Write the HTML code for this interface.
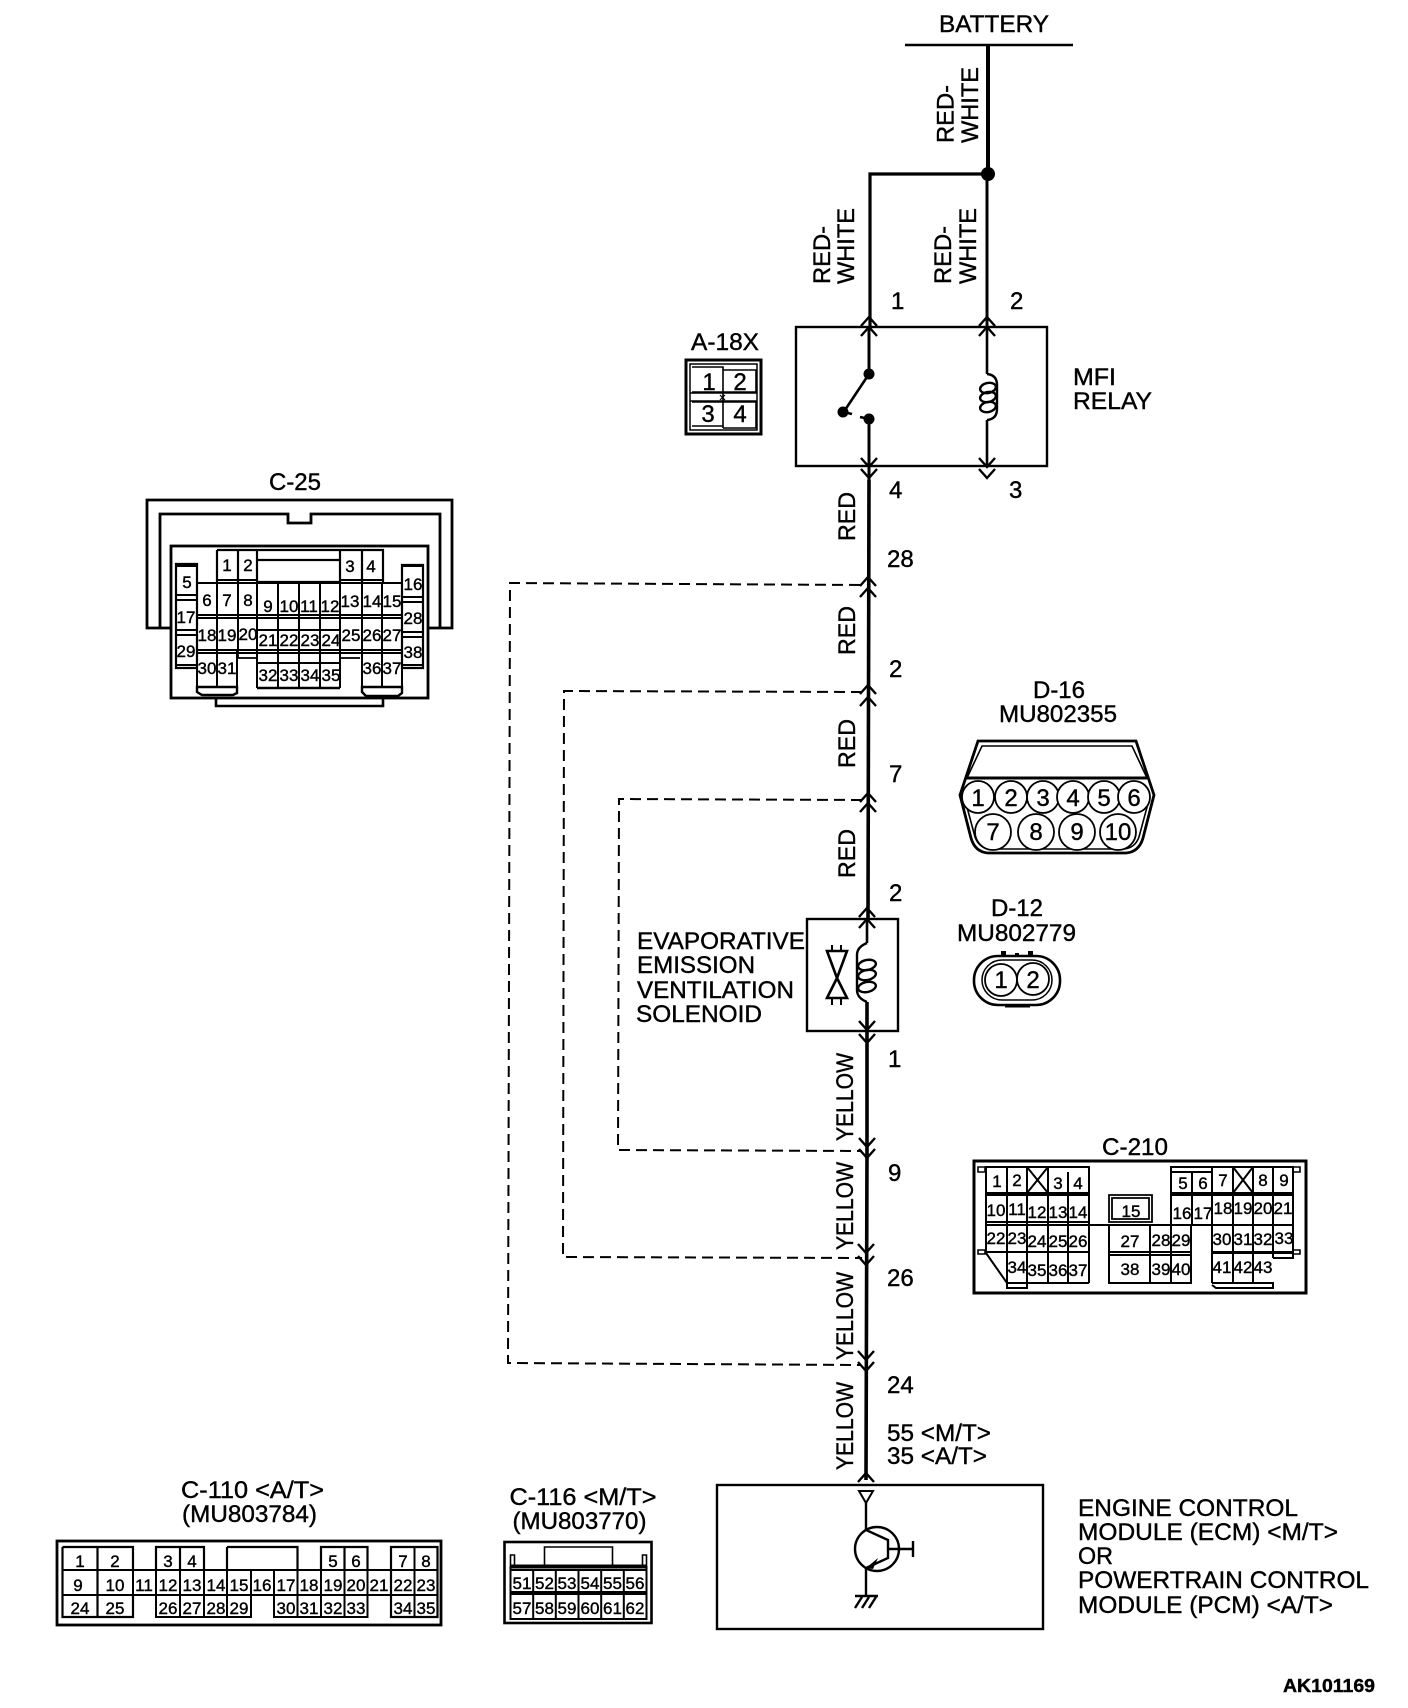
<!DOCTYPE html>
<html><head><meta charset="utf-8"><title>Wiring diagram</title>
<style>
html,body{margin:0;padding:0;background:#fff}
svg{display:block}
text{font-family:"Liberation Sans",Arial,sans-serif;fill:#000;stroke:#000;stroke-width:.4}
.t{font-size:24px}
.n{font-size:17px;text-anchor:middle;stroke:#000;stroke-width:.45}
.p{font-size:24px}
.c{font-size:24px;text-anchor:middle}
.l{fill:none;stroke:#000}
</style></head><body>
<svg width="1408" height="1708" viewBox="0 0 1408 1708" xmlns="http://www.w3.org/2000/svg" stroke-width="2.2">
<rect width="1408" height="1708" fill="#fff" stroke="none"/>

<!-- Wires -->
<g fill="none" stroke="#000">
<path d="M905 45H1073" stroke-width="2.5"/>
<path d="M988 45V174" stroke-width="4"/>
<path d="M988 174H870V327" stroke-width="3.2"/>
<path d="M987 174V327" stroke-width="3"/>
<path d="M869 327V374" stroke-width="3"/>
<path d="M869 419V580" stroke-width="3"/>
<path d="M869 480L868 919" stroke-width="3.6"/>
<path d="M867 1002V1150L866 1480" stroke-width="3.6"/>
<path d="M987 327V374M987 420V466" stroke-width="2.6"/>
<path d="M867 919V943M867 1002V1031" stroke-width="2.6"/>
</g>
<circle cx="988" cy="174" r="7" stroke="none"/>

<!-- Dashed -->
<g fill="none" stroke="#000" stroke-width="2" stroke-dasharray="11 6">
<path d="M860 585L510 583L508 1363L860 1365"/>
<path d="M862 692L564 691L563 1257L862 1258"/>
<path d="M862 800L619 799L618 1150L862 1151"/>
</g>

<!-- Arrow chevrons -->
<g fill="none" stroke="#000" stroke-width="2.4">
<path d="M861 326L869 317L877 326M861 336L869 327L877 336"/>
<path d="M979 326L987 317L995 326M979 336L987 327L995 336"/>
<path d="M861 458L869 467L877 458M861 469L869 478L877 469"/>
<path d="M979 458L987 467L995 458M979 469L987 478L995 469"/>
<path d="M860 586L868 577L876 586M860 597L868 588L876 597"/>
<path d="M860 694L868 685L876 694M860 706L868 697L876 706"/>
<path d="M860 802L868 793L876 802M860 812L868 803L876 812"/>
<path d="M859 917L867 908L875 917M859 928L867 919L875 928"/>
<path d="M859 1021L867 1030L875 1021M859 1034L867 1043L875 1034"/>
<path d="M859 1138L867 1147L875 1138M859 1149L867 1158L875 1149"/>
<path d="M858 1244L866 1253L874 1244M858 1256L866 1265L874 1256"/>
<path d="M858 1351L866 1360L874 1351M858 1362L866 1371L874 1362"/>
<path d="M858 1482L866 1473L874 1482"/>
</g>

<!-- Top labels -->
<text class="t" x="939" y="32" textLength="110" lengthAdjust="spacingAndGlyphs">BATTERY</text>
<text class="t" transform="translate(953.5 143) rotate(-90)" textLength="58" lengthAdjust="spacingAndGlyphs">RED-</text>
<text class="t" transform="translate(978 143) rotate(-90)" textLength="76" lengthAdjust="spacingAndGlyphs">WHITE</text>
<text class="t" transform="translate(830 284) rotate(-90)" textLength="58" lengthAdjust="spacingAndGlyphs">RED-</text>
<text class="t" transform="translate(854 284) rotate(-90)" textLength="76" lengthAdjust="spacingAndGlyphs">WHITE</text>
<text class="t" transform="translate(951 284) rotate(-90)" textLength="58" lengthAdjust="spacingAndGlyphs">RED-</text>
<text class="t" transform="translate(976 284) rotate(-90)" textLength="76" lengthAdjust="spacingAndGlyphs">WHITE</text>

<text class="t" transform="translate(855 541) rotate(-90)" textLength="49" lengthAdjust="spacingAndGlyphs">RED</text>
<text class="t" transform="translate(855 655) rotate(-90)" textLength="49" lengthAdjust="spacingAndGlyphs">RED</text>
<text class="t" transform="translate(855 768) rotate(-90)" textLength="49" lengthAdjust="spacingAndGlyphs">RED</text>
<text class="t" transform="translate(855 878) rotate(-90)" textLength="49" lengthAdjust="spacingAndGlyphs">RED</text>
<text class="t" transform="translate(853 1141) rotate(-90)" textLength="88" lengthAdjust="spacingAndGlyphs">YELLOW</text>
<text class="t" transform="translate(853 1250) rotate(-90)" textLength="88" lengthAdjust="spacingAndGlyphs">YELLOW</text>
<text class="t" transform="translate(853 1360) rotate(-90)" textLength="88" lengthAdjust="spacingAndGlyphs">YELLOW</text>
<text class="t" transform="translate(853 1470) rotate(-90)" textLength="88" lengthAdjust="spacingAndGlyphs">YELLOW</text>

<!-- Pin numbers -->
<text class="p" x="891" y="309">1</text>
<text class="p" x="1010" y="309">2</text>
<text class="p" x="889" y="498">4</text>
<text class="p" x="1009" y="498">3</text>
<text class="p" x="887" y="567">28</text>
<text class="p" x="889" y="677">2</text>
<text class="p" x="889" y="782">7</text>
<text class="p" x="889" y="901">2</text>
<text class="p" x="888" y="1067">1</text>
<text class="p" x="888" y="1181">9</text>
<text class="p" x="887" y="1286">26</text>
<text class="p" x="887" y="1393">24</text>
<text class="p" x="887" y="1441" textLength="104" lengthAdjust="spacingAndGlyphs">55 &lt;M/T&gt;</text>
<text class="p" x="887" y="1464" textLength="100" lengthAdjust="spacingAndGlyphs">35 &lt;A/T&gt;</text>

<!-- MFI relay -->
<rect x="796" y="327" width="251" height="139" class="l" stroke-width="2.4"/>
<circle cx="869" cy="374" r="5.5" stroke="none"/>
<circle cx="843" cy="412" r="5.5" stroke="none"/>
<circle cx="869" cy="419" r="5.5" stroke="none"/>
<path d="M869 374L845 410M869 419L860 417M843 412L852 414" class="l" stroke-width="2.6"/>
<path d="M987 374Q997 375 997 385V409Q997 419 987 420" class="l" stroke-width="2.4"/>
<ellipse cx="988" cy="388" rx="8" ry="5" class="l" stroke-width="2.4" transform="rotate(-12 988 388)"/>
<ellipse cx="988" cy="397" rx="8" ry="5" class="l" stroke-width="2.4" transform="rotate(-12 988 397)"/>
<ellipse cx="988" cy="407" rx="8" ry="5" class="l" stroke-width="2.4" transform="rotate(-12 988 407)"/>
<text class="t" x="1073" y="385" textLength="43" lengthAdjust="spacingAndGlyphs">MFI</text>
<text class="t" x="1073" y="409" textLength="79" lengthAdjust="spacingAndGlyphs">RELAY</text>

<!-- A-18X -->
<text class="t" x="691" y="350" textLength="68" lengthAdjust="spacingAndGlyphs">A-18X</text>
<rect x="686" y="360" width="75" height="74" class="l" stroke-width="3"/>
<rect x="690" y="364" width="67" height="66" class="l" stroke-width="1.5"/>
<path d="M692 367H723V392H692M723 370H756V392H723M692 402H723V426H692M723 402H756V428H723M690 393H757M690 401H757M723 367V428" class="l" stroke-width="1.6"/>
<path d="M720 395L725 400M725 395L720 400" class="l" stroke-width="1.2"/>
<text class="c" x="709" y="390">1</text>
<text class="c" x="740" y="390">2</text>
<text class="c" x="708" y="422">3</text>
<text class="c" x="740" y="422">4</text>

<!-- Solenoid -->
<rect x="807" y="919" width="91" height="112" class="l" stroke-width="2.4"/>
<path d="M867 943Q857 947 857 955V990Q857 998 867 1002" class="l" stroke-width="2.4"/>
<ellipse cx="867" cy="965" rx="9" ry="5" class="l" stroke-width="2.4" transform="rotate(-12 867 965)"/>
<ellipse cx="867" cy="975" rx="9" ry="5" class="l" stroke-width="2.4" transform="rotate(-12 867 975)"/>
<ellipse cx="867" cy="987" rx="9" ry="5" class="l" stroke-width="2.4" transform="rotate(-12 867 987)"/>
<path d="M827 951H847L837 978L847 998H827L837 978Z" class="l" stroke-width="2.6"/>
<path d="M832 945V951M841 945V951M832 998V1005M841 998V1005" class="l" stroke-width="2"/>
<text class="t" x="637" y="949" textLength="168" lengthAdjust="spacingAndGlyphs">EVAPORATIVE</text>
<text class="t" x="637" y="973" textLength="118" lengthAdjust="spacingAndGlyphs">EMISSION</text>
<text class="t" x="637" y="998" textLength="157" lengthAdjust="spacingAndGlyphs">VENTILATION</text>
<text class="t" x="636" y="1022" textLength="126" lengthAdjust="spacingAndGlyphs">SOLENOID</text>

<!-- ECM -->
<rect x="717" y="1485" width="326" height="144" class="l" stroke-width="2.4"/>
<path d="M859 1491H873L866 1503Z" class="l" stroke-width="2"/>
<path d="M866 1503V1530L888 1540V1558L866 1568V1595M888 1549H913M913 1541V1557M855 1596H878M862 1597L855 1608M869 1597L862 1608M876 1597L869 1608" class="l" stroke-width="2.4"/>
<circle cx="877" cy="1549" r="22" class="l" stroke-width="2.4"/>
<path d="M866 1568L878 1558L873 1569Z" stroke="none"/>
<text class="t" x="1078" y="1516" textLength="220" lengthAdjust="spacingAndGlyphs">ENGINE CONTROL</text>
<text class="t" x="1078" y="1540" textLength="260" lengthAdjust="spacingAndGlyphs">MODULE (ECM) &lt;M/T&gt;</text>
<text class="t" x="1078" y="1564" textLength="35" lengthAdjust="spacingAndGlyphs">OR</text>
<text class="t" x="1078" y="1588" textLength="291" lengthAdjust="spacingAndGlyphs">POWERTRAIN CONTROL</text>
<text class="t" x="1078" y="1613" textLength="255" lengthAdjust="spacingAndGlyphs">MODULE (PCM) &lt;A/T&gt;</text>
<text x="1283" y="1692" font-size="18" font-weight="bold" textLength="92" lengthAdjust="spacingAndGlyphs">AK101169</text>

<!-- D-16 -->
<text class="t" x="1033" y="698" textLength="52" lengthAdjust="spacingAndGlyphs">D-16</text>
<text class="t" x="999" y="722" textLength="118" lengthAdjust="spacingAndGlyphs">MU802355</text>
<path d="M978 741H1136L1154 795L1143 838Q1139 852 1126 853H988Q975 852 971 838L960 795Z" class="l" stroke-width="2.8"/>
<path d="M982 746H1132L1147 778H967ZM964 796L975 837Q979 848 990 849H1124Q1135 848 1139 837L1150 796" class="l" stroke-width="1.6"/>
<path d="M965 778H1149" class="l" stroke-width="3"/>
<g stroke="#000" stroke-width="1.8" fill="#fff">
<circle cx="978" cy="797" r="16"/><circle cx="1011" cy="797" r="16"/><circle cx="1043" cy="797" r="16"/><circle cx="1073" cy="797" r="16"/><circle cx="1104" cy="797" r="16"/><circle cx="1134" cy="797" r="16"/>
<circle cx="993" cy="832" r="18"/><circle cx="1036" cy="832" r="18"/><circle cx="1077" cy="832" r="18"/><circle cx="1118" cy="832" r="18"/>
</g>
<text class="c" x="978" y="806">1</text><text class="c" x="1011" y="806">2</text><text class="c" x="1043" y="806">3</text><text class="c" x="1073" y="806">4</text><text class="c" x="1104" y="806">5</text><text class="c" x="1134" y="806">6</text>
<text class="c" x="993" y="840">7</text><text class="c" x="1036" y="840">8</text><text class="c" x="1077" y="840">9</text><text class="c" x="1118" y="840">10</text>

<!-- D-12 -->
<text class="t" x="991" y="916" textLength="52" lengthAdjust="spacingAndGlyphs">D-12</text>
<text class="t" x="957" y="941" textLength="119" lengthAdjust="spacingAndGlyphs">MU802779</text>
<path d="M1001 951h5v5h-5zM1028 951h5v5h-5zM1015 953h4v3h-4z" stroke="none"/>
<rect x="974" y="956" width="86" height="49" rx="24" class="l" stroke-width="2.6"/>
<rect x="982" y="960" width="70" height="40" rx="20" class="l" stroke-width="1.5"/>
<path d="M1005 1006H1030" class="l" stroke-width="3"/>
<circle cx="1001" cy="980" r="16" class="l" stroke-width="1.8"/>
<circle cx="1033" cy="979" r="16" class="l" stroke-width="1.8"/>
<text class="c" x="1001" y="988">1</text><text class="c" x="1033" y="988">2</text>

<!-- C-25 -->
<text class="t" x="269" y="490" textLength="52" lengthAdjust="spacingAndGlyphs">C-25</text>
<path d="M171 628H147V500H452V628H428M160 628V514H288V523H311V514H440V628" class="l" stroke-width="2.8"/>
<path d="M216 698V706H383V698" class="l" stroke-width="2.6"/>
<rect x="171" y="546" width="257" height="152" class="l" stroke-width="2.8"/>
<path d="M176 564H197V668H176ZM402 565H423V668H402Z" class="l" stroke-width="2.2"/>
<path d="M176 566H197M176 595H197M176 600H197M176 630H197M176 635H197M176 665H197M402 566H423M402 597H423M402 602H423M402 632H423M402 637H423M402 665H423" class="l" stroke-width="2"/>
<path d="M217 550H383V582M217 550V582M238 550V582M257 550V582M340 550V582M362 550V582M257 560H340M257 582H340" class="l" stroke-width="2.2"/>
<path d="M197 583H402M217 580H257M340 580H383M197 615H402M197 618H402M197 650H402M197 653H402M257 630H340M257 663H340" class="l" stroke-width="2"/>
<path d="M197 583V687M217 550V687M238 583V650M257 583V688M278 583V688M299 583V688M320 583V688M340 583V688M362 583V650M362 650V687M382 583V687M402 583V687M237 650V687" class="l" stroke-width="2"/>
<path d="M197 687H237V693L233 695H202L197 692ZM362 687H402V693L398 696H366L362 692ZM257 688H340" class="l" stroke-width="2.4"/>
<path d="M238 650V658H257M340 658H360" class="l" stroke-width="1.8"/>
<g class="n">
<text x="227" y="571">1</text><text x="248" y="571">2</text><text x="350" y="572">3</text><text x="371" y="572">4</text>
<text x="187" y="588">5</text><text x="413" y="590">16</text>
<text x="207" y="606">6</text><text x="227" y="606">7</text><text x="248" y="606">8</text>
<text x="268" y="612">9</text><text x="289" y="612">10</text><text x="309" y="612">11</text><text x="330" y="612">12</text>
<text x="350" y="607">13</text><text x="372" y="607">14</text><text x="392" y="607">15</text>
<text x="186" y="623">17</text><text x="413" y="624">28</text>
<text x="207" y="641">18</text><text x="227" y="641">19</text><text x="248" y="640">20</text>
<text x="268" y="646">21</text><text x="289" y="646">22</text><text x="310" y="646">23</text><text x="331" y="646">24</text>
<text x="351" y="641">25</text><text x="372" y="641">26</text><text x="392" y="641">27</text>
<text x="186" y="657">29</text><text x="413" y="658">38</text>
<text x="207" y="674">30</text><text x="227" y="674">31</text>
<text x="268" y="681">32</text><text x="289" y="681">33</text><text x="310" y="681">34</text><text x="331" y="681">35</text>
<text x="372" y="674">36</text><text x="392" y="674">37</text>
</g>

<!-- C-210 -->
<text class="t" x="1102" y="1155" textLength="66" lengthAdjust="spacingAndGlyphs">C-210</text>
<rect x="974" y="1161" width="332" height="132" class="l" stroke-width="3"/>
<path d="M978 1167h7v5h-7zM1293 1167h7v5h-7zM978 1250h7v4h-7zM1293 1250h7v4h-7z" class="l" stroke-width="1.6"/>
<path d="M986 1167H1089V1193H986ZM1007 1167V1222M1027 1167V1283M1048 1167V1283M1068 1172V1283M1089 1172V1283M986 1195H1089M986 1222H1089V1225M986 1167V1253M986 1252H1089M986 1253L1007 1283H1089M1007 1193V1288H1027V1283" class="l" stroke-width="2"/>
<path d="M1027 1167L1048 1193M1048 1167L1027 1193M1233 1167L1253 1193M1253 1167L1233 1193" class="l" stroke-width="2"/>
<path d="M1171 1167H1293V1193H1171ZM1171 1172H1212M1192 1172V1193M1212 1167V1283M1233 1167V1283M1253 1167V1283M1273 1167V1258M1171 1195H1293V1225H1171ZM1192 1195V1225M1212 1225H1293V1252H1212M1212 1253H1293V1258H1273M1212 1283H1273V1288H1216L1212 1285" class="l" stroke-width="2"/>
<path d="M1109 1195H1152V1222H1109ZM1112 1198H1149V1219H1112Z" class="l" stroke-width="1.8"/>
<path d="M986 1225H1191V1283H1109V1225M1150 1225V1283M1171 1225V1283M1109 1252H1191M1109 1255H1191" class="l" stroke-width="2"/>
<g class="n">
<text x="997" y="1187">1</text><text x="1017" y="1186">2</text><text x="1058" y="1189">3</text><text x="1078" y="1189">4</text><text x="1183" y="1189">5</text><text x="1203" y="1189">6</text><text x="1223" y="1186">7</text><text x="1263" y="1186">8</text><text x="1284" y="1186">9</text>
<text x="996" y="1216">10</text><text x="1017" y="1215">11</text><text x="1037" y="1218">12</text><text x="1058" y="1218">13</text><text x="1078" y="1218">14</text><text x="1131" y="1217">15</text><text x="1182" y="1219">16</text><text x="1203" y="1219">17</text><text x="1223" y="1214">18</text><text x="1243" y="1214">19</text><text x="1263" y="1214">20</text><text x="1283" y="1214">21</text>
<text x="996" y="1244">22</text><text x="1017" y="1244">23</text><text x="1037" y="1247">24</text><text x="1058" y="1247">25</text><text x="1078" y="1247">26</text><text x="1130" y="1247">27</text><text x="1161" y="1246">28</text><text x="1181" y="1246">29</text><text x="1222" y="1245">30</text><text x="1243" y="1245">31</text><text x="1263" y="1245">32</text><text x="1284" y="1244">33</text>
<text x="1017" y="1273">34</text><text x="1037" y="1276">35</text><text x="1058" y="1276">36</text><text x="1078" y="1276">37</text><text x="1130" y="1275">38</text><text x="1161" y="1275">39</text><text x="1181" y="1275">40</text><text x="1222" y="1273">41</text><text x="1243" y="1273">42</text><text x="1263" y="1273">43</text>
</g>

<!-- C-110 -->
<text class="t" x="181" y="1498" textLength="143" lengthAdjust="spacingAndGlyphs">C-110 &lt;A/T&gt;</text>
<text class="t" x="182" y="1522" textLength="135" lengthAdjust="spacingAndGlyphs">(MU803784)</text>
<rect x="57" y="1541" width="384" height="84" class="l" stroke-width="2.8"/>
<path d="M62.5 1547H133V1570M62.5 1547V1617H133V1595M97.5 1547V1617M156 1570V1547H204V1570M180 1547V1570M227 1547H297.5V1570M227 1547V1570M321 1570V1547H367.5V1570M344.5 1547V1570M391 1570V1547H437.5V1617H391V1570" class="l" stroke-width="2.2"/>
<path d="M62.5 1570H437.5M62.5 1595H437.5M133 1570V1595M156 1570V1617H251V1595M180 1570V1617M204 1570V1617M227 1570V1617M251 1570V1595M274 1570V1617H367.5V1570M297.5 1570V1617M321 1570V1617M344.5 1570V1617M414.5 1547V1617" class="l" stroke-width="2"/>
<g class="n">
<text x="80" y="1567">1</text><text x="115" y="1567">2</text><text x="168" y="1567">3</text><text x="192" y="1567">4</text><text x="333" y="1567">5</text><text x="356" y="1567">6</text><text x="403" y="1567">7</text><text x="426" y="1567">8</text>
<text x="78" y="1591">9</text><text x="115" y="1591">10</text><text x="144" y="1591">11</text><text x="168" y="1591">12</text><text x="192" y="1591">13</text><text x="216" y="1591">14</text><text x="239" y="1591">15</text><text x="262" y="1591">16</text><text x="286" y="1591">17</text><text x="309" y="1591">18</text><text x="333" y="1591">19</text><text x="356" y="1591">20</text><text x="379" y="1591">21</text><text x="403" y="1591">22</text><text x="426" y="1591">23</text>
<text x="80" y="1614">24</text><text x="115" y="1614">25</text><text x="168" y="1614">26</text><text x="192" y="1614">27</text><text x="216" y="1614">28</text><text x="239" y="1614">29</text><text x="286" y="1614">30</text><text x="309" y="1614">31</text><text x="333" y="1614">32</text><text x="356" y="1614">33</text><text x="403" y="1614">34</text><text x="426" y="1614">35</text>
</g>

<!-- C-116 -->
<g transform="translate(-2.5 0)">
<text class="t" x="512" y="1505" textLength="147" lengthAdjust="spacingAndGlyphs">C-116 &lt;M/T&gt;</text>
<text class="t" x="515" y="1529" textLength="134" lengthAdjust="spacingAndGlyphs">(MU803770)</text>
<rect x="507" y="1542" width="147" height="81" class="l" stroke-width="2.6"/>
<path d="M547 1566V1547H615V1566M513 1566V1555H517V1566M645 1566V1555H649V1566" class="l" stroke-width="1.6"/>
<path d="M513 1566.5H649M513 1593H649" class="l" stroke-width="4"/>
<path d="M513 1570H649V1619H513ZM513 1566V1619M535.7 1570V1619M558.3 1570V1619M581 1570V1619M603.7 1570V1619M626.3 1570V1619M649 1566V1619" class="l" stroke-width="2"/>
<g class="n">
<text x="524.5" y="1589">51</text><text x="547" y="1589">52</text><text x="569.5" y="1589">53</text><text x="592.5" y="1589">54</text><text x="615" y="1589">55</text><text x="637.5" y="1589">56</text>
<text x="524.5" y="1614">57</text><text x="547" y="1614">58</text><text x="569.5" y="1614">59</text><text x="592.5" y="1614">60</text><text x="615" y="1614">61</text><text x="637.5" y="1614">62</text>
</g>
</g>
</svg>
</body></html>
